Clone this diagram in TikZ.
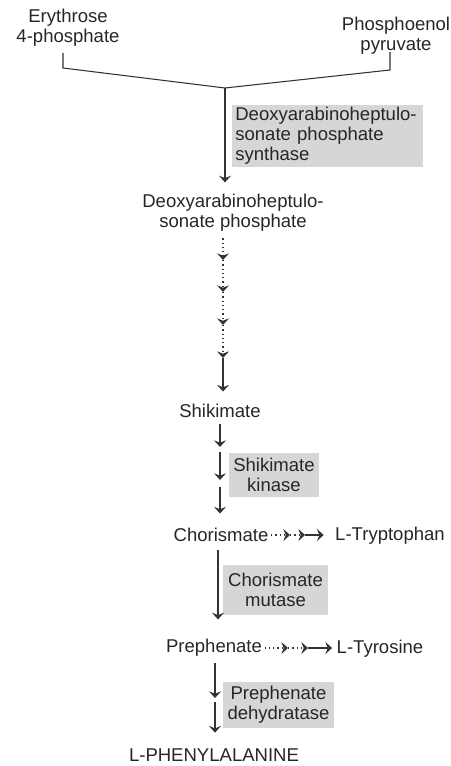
\documentclass[tikz,border=0pt]{standalone}
\usepackage{fontspec}
\setmainfont{Liberation Sans}
\usetikzlibrary{arrows.meta,decorations.markings}
\tikzset{
  tip/.tip={Stealth[length=5pt,width=9pt,inset=1.8pt]},
}
\begin{document}
\begin{tikzpicture}[x=0.75pt,y=-0.75pt,
  every node/.style={font=\fontsize{13.9}{15}\selectfont, text=black!85, inner sep=2pt, outer xsep=0pt, outer ysep=3pt},
  enzyme/.style={fill=black!16, inner xsep=3.5pt, inner ysep=2pt, outer sep=0pt},
  arr/.style={draw=black!80, line width=0.8pt, -tip},
  dotarr/.style={draw=black!80, line width=0.8pt, dash pattern=on 1pt off 2.2pt,
    decoration={markings, mark=at position 1 with {\pgfsetdash{}{0pt}\arrow[black!80]{tip}}},
    postaction=decorate}]
\useasboundingbox (0,0) rectangle (450,766);
% substrates
\node[align=center] (ery) at (68,28) {Erythrose\\4-phosphate};
\node[align=center] (pep) at (396,36) {Phosphoenol\\pyruvate};
\coordinate (ebar) at (63,53);
\coordinate (pbar) at (390,52);
\coordinate (join) at (225,88);
\draw[draw=black!80, line width=0.8pt] (ebar) -- ++(0,15) -- (join);
\draw[draw=black!80, line width=0.8pt] (pbar) -- ++(0,18) -- (join);
% metabolites
\node[align=center] (dahp) at (233,213) {Deoxyarabinoheptulo-\\sonate phosphate};
\node (shik) at (220,411) {Shikimate};
\node (chor) at (221,535) {Chorismate};
\node (trp) at (390,536) {L-Tryptophan};
\node (preph) at (214,648) {Prephenate};
\node (tyr) at (380,649) {L-Tyrosine};
\node (phe) at (214,755) {L-PHENYLALANINE};
% enzymes
\node[enzyme, anchor=west, align=left, inner xsep=2.5pt, text width=138pt, minimum height=46.5pt] (dahps) at (232,136) {Deoxyarabinoheptulo-\\sonate phosphate\\synthase};
\node[enzyme, align=center, minimum width=66pt, minimum height=33pt] (kin) at (274,475) {Shikimate\\kinase};
\node[enzyme, align=center, minimum width=79pt, minimum height=37.5pt] (mut) at (275.5,590) {Chorismate\\mutase};
\node[enzyme, align=center, minimum width=82pt, minimum height=34.5pt] (dehyd) at (278.5,705) {Prephenate\\dehydratase};
% arrows
\draw[arr, shorten >=4pt] (join) -- (join |- dahp.north);
\coordinate (c1) at (223,260);
\coordinate (c2) at (223,292);
\coordinate (c3) at (223,325);
\coordinate (c4) at (223,358);
\draw[dotarr] (dahp.south -| c1) -- (c1);
\draw[dotarr] (c1) -- (c2);
\draw[dotarr] (c2) -- (c3);
\draw[dotarr] (c3) -- (c4);
\draw[arr, shorten >=4.5pt] (c4) -- (shik.north -| c4);
\coordinate (s1) at (220,447);
\coordinate (s2) at (220,480);
\draw[arr] (shik.south -| s1) -- (s1);
\draw[arr] ([yshift=-4pt]s1) -- (s2);
\draw[arr, shorten >=6pt] ([yshift=-5pt]s2) -- (chor.north -| s2);
\coordinate (t1) at (290,535);
\coordinate (t2) at (305,535);
\draw[dotarr] (chor.east) -- (t1);
\draw[dotarr] (t1) -- (t2);
\draw[arr, shorten >=6.7pt] (t2) -- (t2 -| trp.west);
\coordinate (m1) at (218,550);
\draw[arr, shorten >=10pt] (m1) -- (m1 |- preph.north);
\coordinate (y1) at (288,648);
\coordinate (y2) at (308,648);
\draw[dotarr] (preph.east) -- (y1);
\draw[dotarr] (y1) -- (y2);
\draw[arr, shorten >=1.5pt] (y2) -- (y2 -| tyr.west);
\coordinate (p1) at (215,698);
\draw[arr] (preph.south -| p1) -- (p1);
\draw[arr, shorten >=7pt] ([yshift=-3pt]p1) -- (p1 |- phe.north);
\end{tikzpicture}
\end{document}
